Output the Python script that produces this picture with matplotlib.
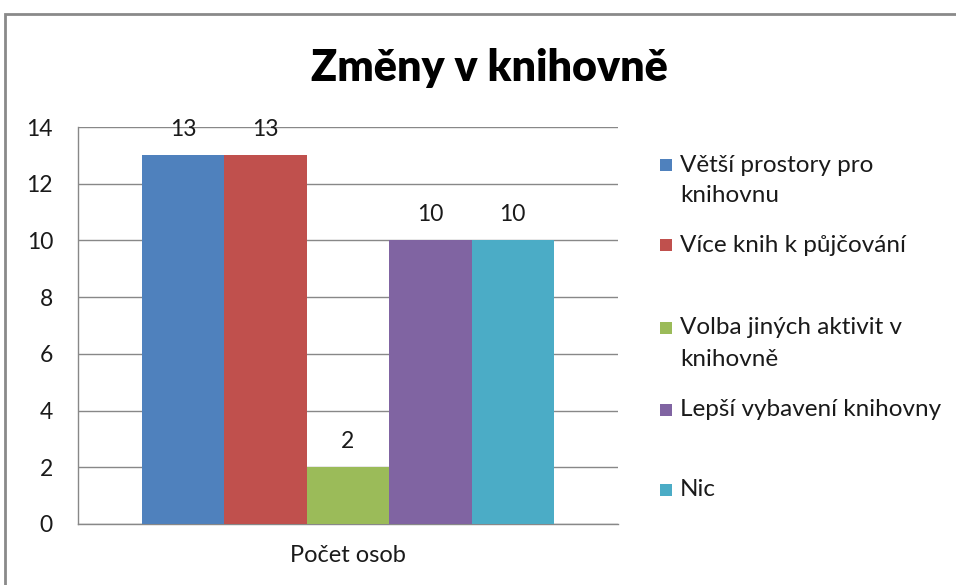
import matplotlib
matplotlib.use('Agg')
import matplotlib.pyplot as plt
from matplotlib.patches import Rectangle

# data
category = 'Počet osob'
series = ['Větší prostory pro\nknihovnu', 'Více knih k půjčování',
          'Volba jiných aktivit v\nknihovně', 'Lepší vybavení knihovny', 'Nic']
values = [13, 13, 2, 10, 10]
colors = ['#4F81BD', '#C0504D', '#9BBB59', '#8064A2', '#4BACC6']
yticks = [0, 2, 4, 6, 8, 10, 12, 14]

plt.rcParams['font.family'] = ['Lato', 'DejaVu Sans']

W, H = 956, 585
fig = plt.figure(figsize=(W / 100, H / 100), dpi=100)

# outer chart border (runs off the right and bottom edges)
fig.patches.append(Rectangle((5 / W, -0.1), 1.1, 1 - 14 / H + 0.1, transform=fig.transFigure,
                             fill=False, edgecolor='#8a8a8a', linewidth=2, clip_on=False))

ax = fig.add_axes([78 / W, 1 - 524 / H, 540 / W, 397 / H])

n = len(values)
offsets = [i - (n - 1) / 2 for i in range(n)]
bars = ax.bar(offsets, values, width=1.0, color=colors, linewidth=0, zorder=3)
for b, v in zip(bars, values):
    ax.text(b.get_x() + b.get_width() / 2, v + 0.92, str(v), ha='center', va='center',
            fontsize=16.5, color='#1a1a1a')

ax.set_xlim(-n / 2 - 0.777, n / 2 + 0.777)
ax.set_ylim(0, 14)
ax.set_yticks(yticks)
ax.set_xticks([0])
ax.set_xticklabels([category])
ax.tick_params(axis='y', length=0, pad=18, labelsize=16.5, labelcolor='#1a1a1a')
ax.tick_params(axis='x', length=0, pad=15, labelsize=17, labelcolor='#1a1a1a')
ax.grid(axis='y', color='#888888', linewidth=1, zorder=0)
for s in ['top', 'right']:
    ax.spines[s].set_visible(False)
for s in ['left', 'bottom']:
    ax.spines[s].set_color('#888888')
    ax.spines[s].set_linewidth(1)

fig.text(489 / W, 1 - 68 / H, 'Změny v knihovně', ha='center', va='center',
         fontsize=31, fontweight='heavy')

# legend, laid out by hand like the Excel one
legend_y = [165, 245, 328, 410, 490]
line_gap = 31
for label, c, y in zip(series, colors, legend_y):
    fig.patches.append(Rectangle((660 / W, 1 - (y + 6) / H), 12 / W, 12 / H,
                                 transform=fig.transFigure, facecolor=c, edgecolor='none'))
    for k, line in enumerate(label.split('\n')):
        fig.text(680 / W, 1 - (y + k * line_gap) / H, line, ha='left', va='center',
                 fontsize=17.5, color='#1a1a1a')

fig.savefig('out.png', dpi=100)
